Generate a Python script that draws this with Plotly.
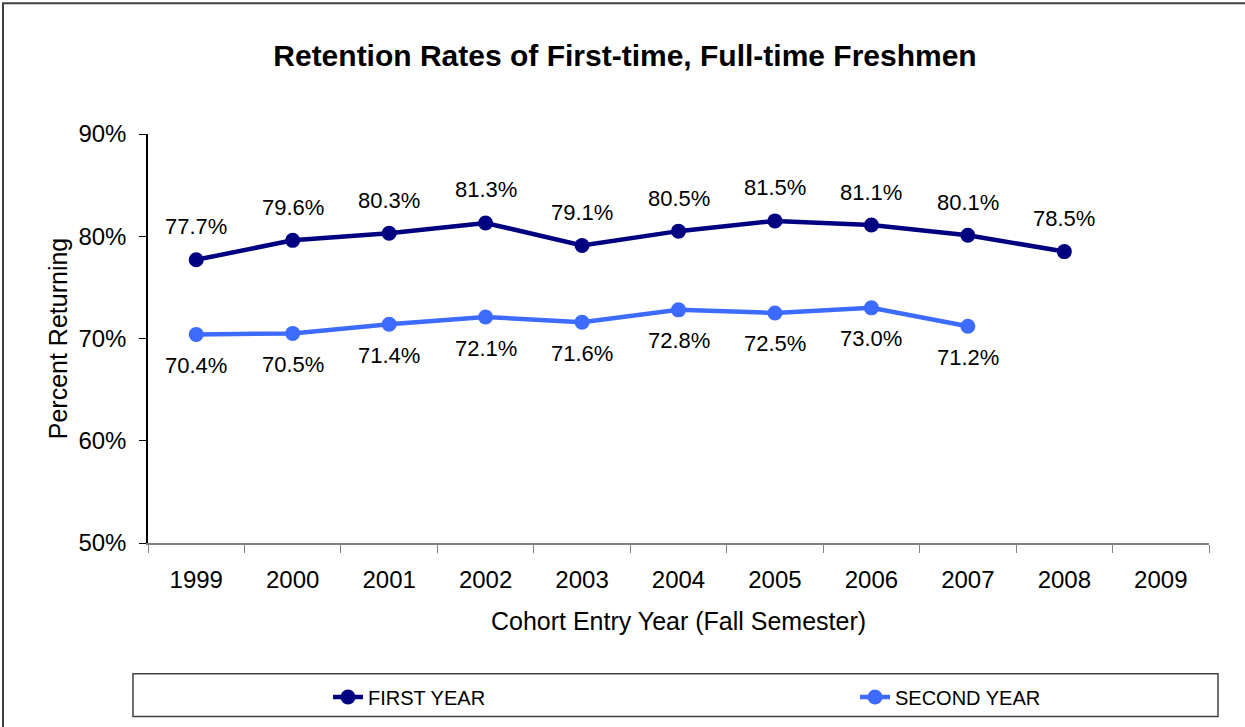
import plotly.graph_objects as go

years = ["1999", "2000", "2001", "2002", "2003", "2004", "2005", "2006", "2007", "2008", "2009"]
first_year = [77.7, 79.6, 80.3, 81.3, 79.1, 80.5, 81.5, 81.1, 80.1, 78.5, None]
second_year = [70.4, 70.5, 71.4, 72.1, 71.6, 72.8, 72.5, 73.0, 71.2, None, None]
y_ticks = [50, 60, 70, 80, 90]
y_tick_labels = ["50%", "60%", "70%", "80%", "90%"]

FONT = "Liberation Sans, Arial, sans-serif"
C1 = "#000080"
C2 = "#3D6BFF"

W, H = 1245, 727
L, R, T, B = 148, 36, 134, 183
pw, ph = W - L - R, H - T - B

def px_x(p):
    return (p - L) / pw

def px_y(p):
    return (H - B - p) / ph

fig = go.Figure()
fig.add_trace(go.Scatter(x=years, y=first_year, mode="lines+markers", name="FIRST YEAR",
                         line=dict(color=C1, width=4.5), marker=dict(color=C1, size=15),
                         connectgaps=False, legend="legend"))
fig.add_trace(go.Scatter(x=years, y=second_year, mode="lines+markers", name="SECOND YEAR",
                         line=dict(color=C2, width=4.5), marker=dict(color=C2, size=15),
                         connectgaps=False, legend="legend2"))

annotations = []
for i, v in enumerate(first_year):
    if v is not None:
        annotations.append(dict(x=i, y=v, xref="x", yref="y", text=f"{v:.1f}%",
                                showarrow=False, yshift=33,
                                font=dict(family=FONT, size=22, color="black")))
for i, v in enumerate(second_year):
    if v is not None:
        annotations.append(dict(x=i, y=v, xref="x", yref="y", text=f"{v:.1f}%",
                                showarrow=False, yshift=-31,
                                font=dict(family=FONT, size=22, color="black")))

legend_common = dict(orientation="h", xanchor="left", yanchor="middle", y=px_y(697),
                     font=dict(family=FONT, size=20, color="black"),
                     bgcolor="rgba(0,0,0,0)", borderwidth=0)

fig.update_layout(
    width=W, height=H,
    margin=dict(l=L, r=R, t=T, b=B, pad=0),
    paper_bgcolor="white", plot_bgcolor="white",
    font=dict(family=FONT, color="black"),
    title=dict(text="<b>Retention Rates of First-time, Full-time Freshmen</b>",
               x=px_x(625), xref="paper", xanchor="center", y=1 - 55 / H, yanchor="middle",
               font=dict(family=FONT, size=30, color="black")),
    showlegend=True,
    legend=dict(x=px_x(328), **legend_common),
    legend2=dict(x=px_x(855), **legend_common),
    annotations=annotations,
    xaxis=dict(type="category", categoryorder="array", categoryarray=years,
               range=[-0.5, len(years) - 0.5],
               tickson="boundaries", ticks="outside", ticklen=8, tickcolor="#808080",
               showline=True, linecolor="#808080", linewidth=1.5,
               showgrid=False, zeroline=False, ticklabelstandoff=14,
               tickfont=dict(family=FONT, size=24, color="black"),
               title=dict(text="Cohort Entry Year (Fall Semester)", standoff=21,
                          font=dict(family=FONT, size=25, color="black"))),
    yaxis=dict(range=[50, 90], tickvals=y_ticks, ticktext=y_tick_labels,
               ticks="outside", ticklen=7, tickcolor="black",
               showline=True, linecolor="black", linewidth=1.5,
               showgrid=False, zeroline=False, ticklabelstandoff=8,
               tickfont=dict(family=FONT, size=24, color="black"),
               title=dict(text="Percent Returning", standoff=4,
                          font=dict(family=FONT, size=25, color="black"))),
    shapes=[
        dict(type="rect", xref="paper", yref="paper",
             x0=px_x(3), x1=px_x(1260), y0=px_y(740), y1=px_y(3),
             line=dict(color="#404040", width=2), fillcolor="rgba(0,0,0,0)", layer="below"),
        dict(type="rect", xref="paper", yref="paper",
             x0=px_x(133), x1=px_x(1218), y0=px_y(718), y1=px_y(675),
             line=dict(color="#404040", width=1.5), fillcolor="rgba(0,0,0,0)", layer="below"),
    ],
)

fig.write_html("out.html", config={"displayModeBar": False},
               post_script="document.body.style.margin='0';")
